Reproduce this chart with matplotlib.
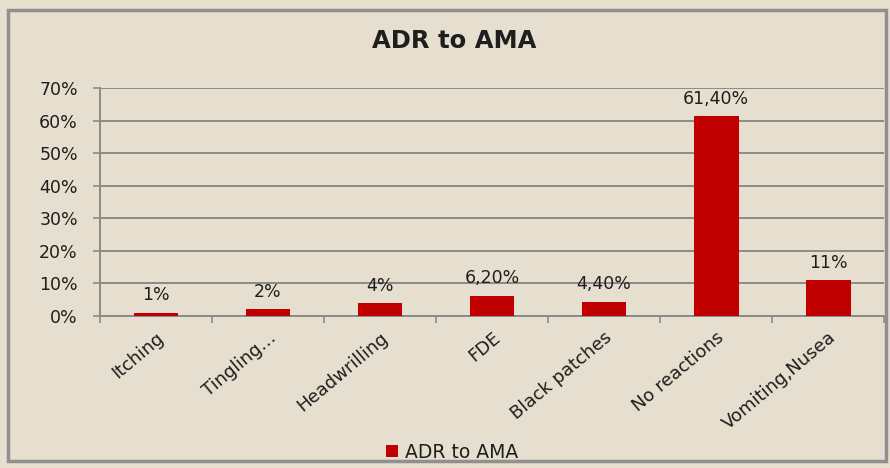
import matplotlib.pyplot as plt
from matplotlib.patches import Rectangle
from matplotlib.ticker import FuncFormatter

categories = ["Itching", "Tingling…", "Headwrilling", "FDE",
              "Black patches", "No reactions", "Vomiting,Nusea"]
values = [0.01, 0.02, 0.04, 0.062, 0.044, 0.614, 0.11]
value_labels = ["1%", "2%", "4%", "6,20%", "4,40%", "61,40%", "11%"]
series_name = "ADR to AMA"

plt.rcParams["font.family"] = ["DejaVu Sans"]

BG = "#e6dfcf"
BAR = "#c00000"
GRID = "#8a8a8a"
TXT = "#1e1e1e"

fig = plt.figure(figsize=(8.9, 4.68), dpi=100)
fig.patch.set_facecolor(BG)
fig.patches.append(Rectangle((0.009, 0.016), 0.986, 0.963, transform=fig.transFigure,
                             fill=False, edgecolor="#8f8f8f", linewidth=2.5))

ax = fig.add_axes([0.1124, 0.325, 0.881, 0.487])
ax.set_facecolor(BG)

x = range(len(categories))
bars = ax.bar(x, values, width=0.4, color=BAR, label=series_name, zorder=3)
for b, lab in zip(bars, value_labels):
    ax.annotate(lab, (b.get_x() + b.get_width() / 2, b.get_height()),
                xytext=(0, 6), textcoords="offset points",
                ha="center", va="bottom", fontsize=12.5, color=TXT)

ax.set_xlim(-0.5, len(categories) - 0.5)
ax.set_ylim(0, 0.7)
ax.set_yticks([i / 10 for i in range(8)])
ax.yaxis.set_major_formatter(FuncFormatter(lambda v, _: f"{v * 100:.0f}%"))
ax.yaxis.grid(True, color=GRID, linewidth=1.4, zorder=0)

# category boundaries get the tick marks, labels sit at bar centres
ax.set_xticks([i - 0.5 for i in range(len(categories) + 1)], minor=False)
ax.set_xticklabels([])
ax.set_xticks(list(x), minor=True)
ax.set_xticklabels(categories, minor=True, rotation=40, ha="right",
                   rotation_mode="anchor", fontsize=13, color=TXT)
ax.tick_params(axis="x", which="minor", length=0, pad=9)
ax.tick_params(axis="x", which="major", length=5, color=GRID, width=1.2)
ax.tick_params(axis="y", length=5, color=GRID, width=1.2, labelsize=12.5,
               labelcolor=TXT, pad=11)

for side in ["top", "right"]:
    ax.spines[side].set_visible(False)
for side in ["left", "bottom"]:
    ax.spines[side].set_color(GRID)
    ax.spines[side].set_linewidth(1.4)

fig.text(0.51, 0.912, "ADR to AMA", ha="center", va="center",
         fontsize=17.5, fontweight="bold", color=TXT)

fig.legend(loc="center", bbox_to_anchor=(0.508, 0.034), frameon=False,
           fontsize=13.5, handlelength=0.65, handleheight=0.65, handletextpad=0.4,
           labelcolor=TXT)

fig.savefig("out.png", dpi=100, facecolor=BG)
